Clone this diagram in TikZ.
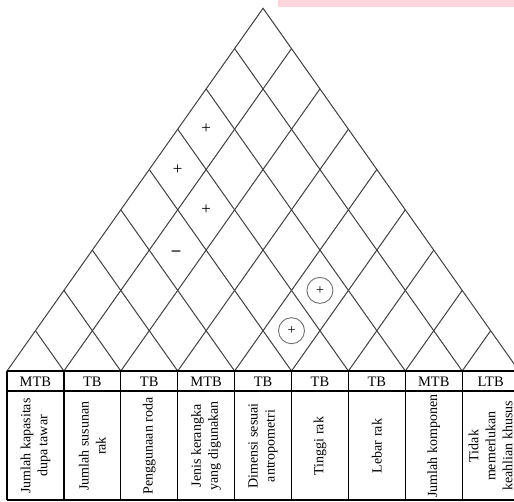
\documentclass[tikz,border=0pt]{standalone}
\usepackage{fontspec}
\setmainfont{Liberation Serif}
\usetikzlibrary{positioning}
\definecolor{roofline}{HTML}{404040}
\definecolor{ringgray}{HTML}{707070}
\definecolor{blush}{HTML}{FFD6DC}
\tikzset{roof/.style={draw=roofline,line width=1pt},rule/.style={draw=black,line width=1.2pt},head/.style={font=\fontsize{14.5}{16}\selectfont,inner sep=0pt},lbl/.style={font=\fontsize{14}{17}\selectfont,rotate=90,align=center,inner sep=0pt},sign/.style={font=\fontsize{17}{18}\selectfont,inner sep=0pt},ring/.style={circle,draw=ringgray,line width=0.9pt,minimum size=26pt,inner sep=0pt,font=\fontsize{14}{15}\selectfont}}

\begin{document}
\begin{tikzpicture}[x=1pt,y=-1pt]
\useasboundingbox (0,0) rectangle (514,502);
\clip (0,0) rectangle (514,502);
\fill[blush] (278,0) rectangle (514,7);
% roof: cell (i,j) sits at (i+j-1, j-i)
\begin{scope}[shift={(7,371)},x=28.45pt,y=40.3pt]
\draw[roof] (0,0) -- (9,9) -- (18,0);
\foreach \k in {1,...,8} {\draw[roof] (\k,\k) -- (2*\k,0) -- (\k+9,9-\k);}
\node[sign] (r17) at (7,6) {+};
\node[sign] (r16) at (6,5) {+};
\node[sign] (r26) at (7,4) {+};
\node[sign] (r25) at (5.95,2.93) {\textbf{--}};
\node[ring] (r57) at (11,2) {+};
\node[ring] (r56) at (10,1) {+};
\end{scope}
% table
\draw[rule,line width=1.8pt] (7,371) -- (530,371);
\draw[rule] (7,391) -- (530,391);
\draw[rule] (7,500) -- (530,500);
\foreach \k in {0,...,9} {\draw[rule] ({7+56.9*\k},371) -- ({7+56.9*\k},500);}
\foreach \hd [count=\i] in {MTB,TB,TB,MTB,TB,TB,TB,MTB,LTB}
  {\node[head] (h\i) at ({7+56.9*(\i-0.5)},381.5) {\hd};}
\foreach \lb [count=\i] in {{Jumlah kapasitas\\dupa tawar},{Jumlah susunan\\rak},{Penggunaan roda},{Jenis kerangka\\yang digunakan},{Dimensi sesuai\\antropometri},{Tinggi rak},{Lebar rak},{Jumlah komponen},{Tidak\\memerlukan\\keahlian khusus}}
  {\node[lbl] (c\i) at ({7+56.9*(\i-0.5)},446) {\lb};}
\end{tikzpicture}
\end{document}
